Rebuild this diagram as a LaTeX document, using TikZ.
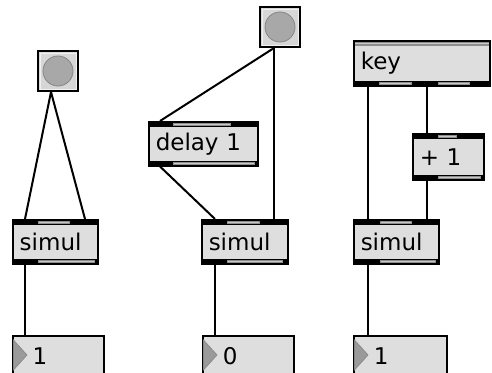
\documentclass[tikz,border=0pt]{standalone}
\usepackage{fontspec}
\setmainfont{DejaVu Sans}
\definecolor{boxfill}{HTML}{DEDEDE}
\definecolor{seg}{HTML}{8E8E8E}
\definecolor{segl}{HTML}{C8C8C8}
\definecolor{btnfill}{HTML}{D6D6D6}
\definecolor{btnin}{HTML}{F0F0F0}
\definecolor{ball}{HTML}{A8A8A8}
\definecolor{balledge}{HTML}{858585}
\definecolor{tri}{HTML}{9A9A9A}
\newcommand\mxtop[3]{%
  \fill[black] (#1.north west) rectangle ([yshift=-6pt]#1.north east);
  \fill[seg] ([xshift=#2pt,yshift=-1.5pt]#1.north west) rectangle ([xshift=#3pt,yshift=-4.5pt]#1.north west);
  \draw[segl,line width=0.8pt] ([xshift=#2pt+1pt,yshift=-3pt]#1.north west) -- ([xshift=#3pt-1pt,yshift=-3pt]#1.north west);
}
\newcommand\mxbot[3]{%
  \fill[black] ([yshift=6pt]#1.south west) rectangle (#1.south east);
  \fill[seg] ([xshift=#2pt,yshift=1.5pt]#1.south west) rectangle ([xshift=#3pt,yshift=4.5pt]#1.south west);
  \draw[segl,line width=0.8pt] ([xshift=#2pt+1pt,yshift=3pt]#1.south west) -- ([xshift=#3pt-1pt,yshift=3pt]#1.south west);
}
\newcommand\mxbtn[1]{%
  \draw[btnin,line width=1pt] ([shift={(3pt,3pt)}]#1.south west) rectangle ([shift={(-3pt,-3pt)}]#1.north east);
  \fill[ball] (#1.center) circle (15pt);
  \draw[balledge,line width=0.8pt] (#1.center) circle (15pt);
}
\newcommand\mxtri[1]{%
  \fill[tri,draw=balledge,line width=0.6pt] ([shift={(1.5pt,-5pt)}]#1.north west) -- ([shift={(15pt,-20pt)}]#1.north west) -- ([shift={(1.5pt,-35pt)}]#1.north west) -- cycle;
}
\begin{document}
\begin{tikzpicture}[x=1pt,y=-1pt,
  mxbox/.style={anchor=north west, rectangle, draw=black, fill=boxfill, line width=1.5pt,
    inner xsep=7pt, inner ysep=0pt, align=left, font=\fontsize{23}{27}\selectfont},
  btn/.style={anchor=north west, rectangle, draw=black, fill=btnfill, line width=2pt,
    minimum size=40pt, inner sep=0pt},
  wire/.style={line width=2pt, black}]
\useasboundingbox (0,0) rectangle (492,372);
\clip (0,0) rectangle (492,372);
\fill[white] (0,0) rectangle (492,372);

% buttons
\node[btn] (b1) at (37,50) {};
\node[btn] (b2) at (259,6) {};
\mxbtn{b1}
\mxbtn{b2}

% objects
\node[mxbox, minimum width=85pt, minimum height=44pt, text width=71pt] (s1) at (12,219) {simul};
\node[mxbox, minimum width=86pt, minimum height=44pt, text width=72pt] (s2) at (201,219) {simul};
\node[mxbox, minimum width=85pt, minimum height=44pt, text width=71pt] (s3) at (353,219) {simul};
\node[mxbox, minimum width=109pt, minimum height=44pt, text width=95pt] (dl) at (148,121) {delay 1};
\node[mxbox, minimum width=71pt, minimum height=46pt, text width=57pt] (pl) at (412,133) {+ 1};
\node[mxbox, minimum width=136pt, minimum height=45pt, text width=122pt] (ky) at (353,40) {key};

\mxtop{s1}{26}{58}\mxbot{s1}{26}{83}
\mxtop{s2}{26}{59}\mxbot{s2}{26}{82}
\mxtop{s3}{27}{59}\mxbot{s3}{27}{83}
\mxtop{dl}{25}{83}\mxbot{dl}{25}{107}
\mxtop{pl}{26}{45}\mxbot{pl}{26}{69}
\mxbot{ky}{26}{59}
\fill[seg] ([xshift=85pt,yshift=1.5pt]ky.south west) rectangle ([xshift=117pt,yshift=4.5pt]ky.south west);
\draw[segl,line width=0.8pt] ([xshift=86pt,yshift=3pt]ky.south west) -- ([xshift=116pt,yshift=3pt]ky.south west);
\fill[seg] ([shift={(1.5pt,-1.5pt)}]ky.north west) rectangle ([shift={(-1.5pt,-5.5pt)}]ky.north east);
\draw[segl,line width=1pt] ([shift={(2pt,-3.5pt)}]ky.north west) -- ([shift={(-2pt,-3.5pt)}]ky.north east);

% number boxes
\node[mxbox, minimum width=91pt, minimum height=40pt, text width=77pt] (n1) at (12,335) {\hspace*{13pt}1};
\node[mxbox, minimum width=91pt, minimum height=40pt, text width=77pt] (n2) at (202,335) {\hspace*{13pt}0};
\node[mxbox, minimum width=93pt, minimum height=40pt, text width=79pt] (n3) at (353,335) {\hspace*{13pt}1};
\mxtri{n1}\mxtri{n2}\mxtri{n3}

% ports
\coordinate (b1o) at ([xshift=14pt]b1.south west);
\coordinate (b2o) at ([xshift=15pt]b2.south west);
\coordinate (s1i1) at ([xshift=13pt]s1.north west);
\coordinate (s1i2) at ([xshift=73pt]s1.north west);
\coordinate (s1o) at ([xshift=13pt]s1.south west);
\coordinate (s2i1) at ([xshift=14pt]s2.north west);
\coordinate (s2i2) at ([xshift=73pt]s2.north west);
\coordinate (s2o) at ([xshift=14pt]s2.south west);
\coordinate (s3i1) at ([xshift=15pt]s3.north west);
\coordinate (s3i2) at ([xshift=74pt]s3.north west);
\coordinate (s3o) at ([xshift=15pt]s3.south west);
\coordinate (dli) at ([xshift=12pt]dl.north west);
\coordinate (dlo) at ([xshift=12pt]dl.south west);
\coordinate (pli) at ([xshift=15pt]pl.north west);
\coordinate (plo) at ([xshift=15pt]pl.south west);
\coordinate (kyo1) at ([xshift=15pt]ky.south west);
\coordinate (kyo2) at ([xshift=74pt]ky.south west);
\coordinate (n1i) at ([xshift=13pt]n1.north west);
\coordinate (n2i) at ([xshift=13pt]n2.north west);
\coordinate (n3i) at ([xshift=15pt]n3.north west);

% wires
\draw[wire] (b1o) -- (s1i1);
\draw[wire] (b1o) -- (s1i2);
\draw[wire] (s1o) -- (n1i);
\draw[wire] (b2o) -- (dli);
\draw[wire] (b2o) -- (s2i2);
\draw[wire] (dlo) -- (s2i1);
\draw[wire] (s2o) -- (n2i);
\draw[wire] (kyo1) -- (s3i1);
\draw[wire] (kyo2) -- (pli);
\draw[wire] (plo) -- (s3i2);
\draw[wire] (s3o) -- (n3i);
\end{tikzpicture}
\end{document}
